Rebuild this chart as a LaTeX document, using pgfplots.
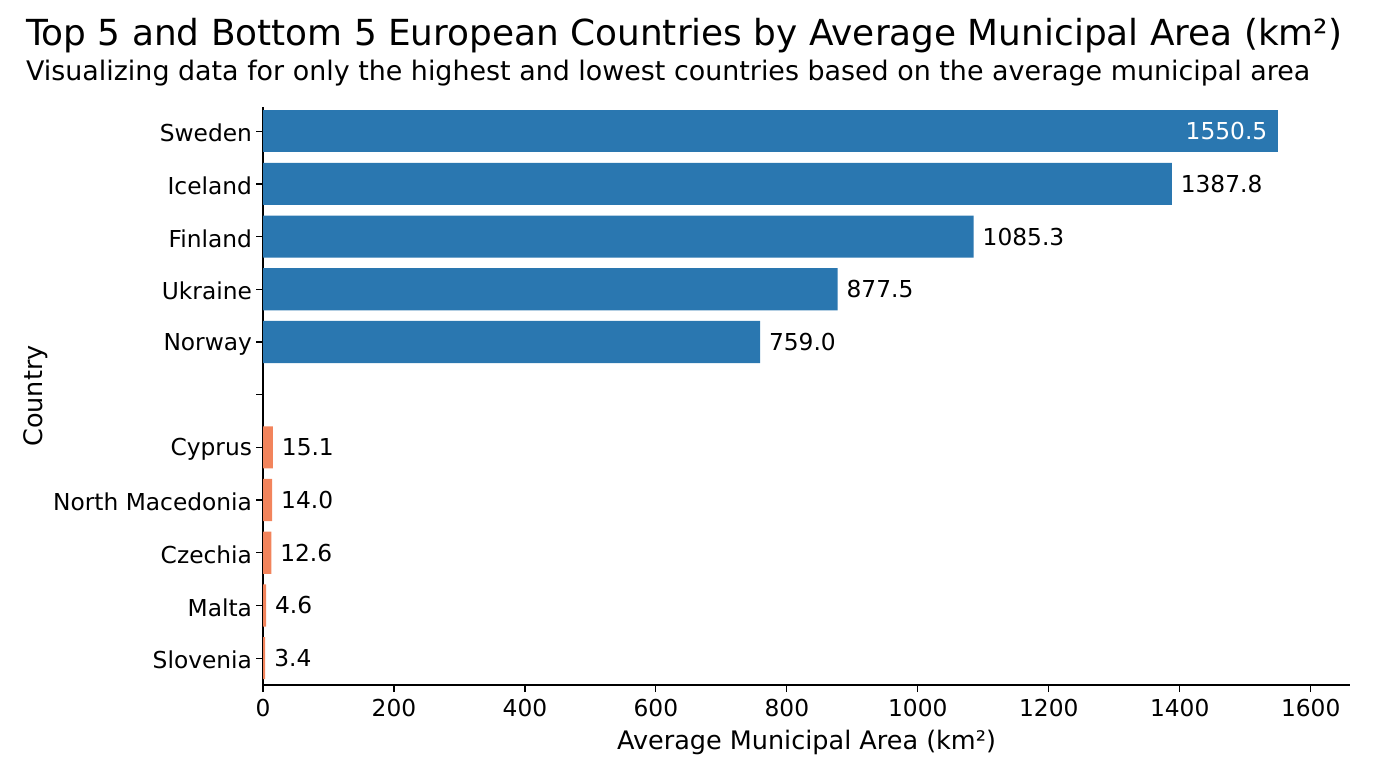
\documentclass[border=0pt]{standalone}
\usepackage{fontspec}
\setmainfont{DejaVu Sans}
\usepackage{pgfplots}
\pgfplotsset{compat=1.18}
\definecolor{topblue}{HTML}{2A77B0}
\definecolor{lowcoral}{HTML}{F2845C}
\begin{document}
\begin{tikzpicture}
% canvas, 1px = 0.5bp
\path (0,0) rectangle (688bp,384bp);
\node[anchor=base west,font=\fontsize{18}{21}\selectfont] at (9.5bp,361bp)
  {Top 5 and Bottom 5 European Countries by Average Municipal Area (km²)};
\node[anchor=base west,font=\fontsize{13.5}{16}\selectfont] at (9.5bp,343.5bp)
  {Visualizing data for only the highest and lowest countries based on the average municipal area};
\begin{axis}[
  at={(131.5bp,41.5bp)}, anchor=south west,
  scale only axis, width=543.5bp, height=289bp,
  xmin=0, xmax=1660, ymin=-0.51, ymax=10.46,
  axis x line*=bottom, axis y line*=left,
  axis line style={line width=0.6bp},
  tick align=outside, major tick length=3.5bp,
  tick style={black, line width=0.6bp},
  xtick={0,200,...,1600},
  ytick={0,...,10},
  yticklabels={Slovenia,Malta,Czechia,North Macedonia,Cyprus,,Norway,Ukraine,Finland,Iceland,Sweden},
  ticklabel style={font=\fontsize{11.7}{14}\selectfont},
  yticklabel style={anchor=east, yshift=-1bp, xshift=1.5bp},
  /pgf/number format/assume math mode=true,
  scaled x ticks=false,
  xticklabel style={/pgf/number format/1000 sep={}},
  xlabel={Average Municipal Area (km²)},
  ylabel={Country},
  label style={font=\fontsize{12.8}{15}\selectfont},
  ylabel style={yshift=-4bp},
  xbar, bar width=0.8, bar shift=0pt,
  nodes near coords,
  nodes near coords style={font=\fontsize{11.7}{14}\selectfont,
    /pgf/number format/fixed, /pgf/number format/fixed zerofill,
    /pgf/number format/precision=1, /pgf/number format/1000 sep={}},
]
\addplot[draw=none, fill=topblue, nodes near coords style={anchor=east, text=white, xshift=-2bp}]
  coordinates {(1550.5,10)};
\addplot[draw=none, fill=topblue, nodes near coords style={anchor=west, xshift=1bp}]
  coordinates {(1387.8,9) (1085.3,8) (877.5,7) (759.0,6)};
\addplot[draw=none, fill=lowcoral, nodes near coords style={anchor=west, xshift=1bp}]
  coordinates {(15.1,4) (14.0,3) (12.6,2) (4.6,1) (3.4,0)};
\end{axis}
\end{tikzpicture}
\end{document}
